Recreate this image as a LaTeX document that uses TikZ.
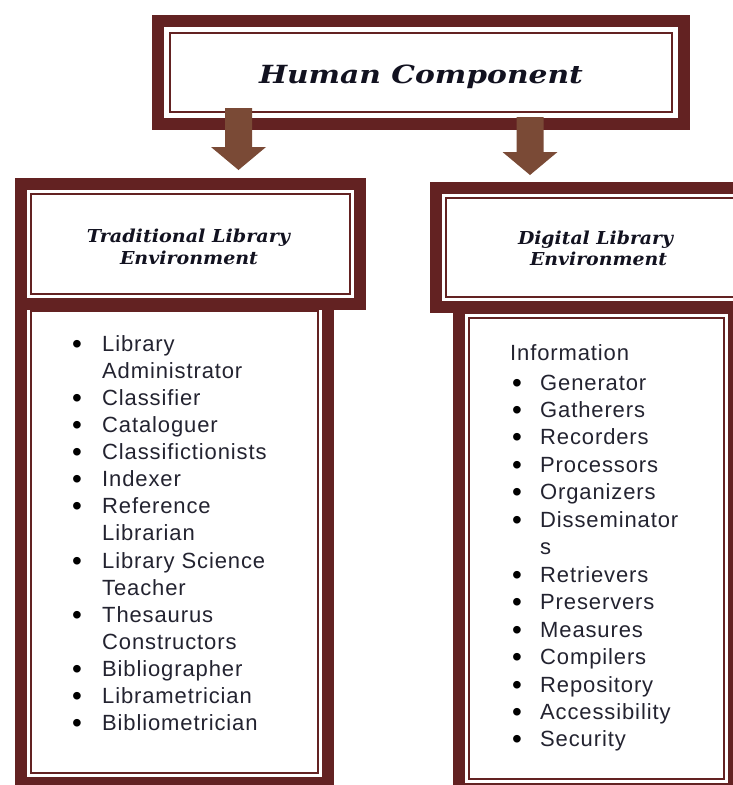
\documentclass[tikz,border=0pt]{standalone}
\usepackage{fontspec}
\usepackage{graphicx}
\usetikzlibrary{calc}
\newfontfamily\hdfont{DejaVu Serif}
\newfontfamily\lsfont[LetterSpace=4]{Liberation Sans}
\definecolor{framec}{RGB}{99,34,34}
\definecolor{arrowc}{RGB}{122,74,54}
\definecolor{headc}{RGB}{18,18,32}
\definecolor{listc}{RGB}{35,35,48}
\tikzset{
  boxframe/.style={draw=framec, line width=12pt, fill=white, inner sep=0pt, outer sep=0pt, rectangle},
  innerline/.style={draw=framec, line width=2.4pt},
  headtxt/.style={inner sep=0pt, text=headc, anchor=base},
  bighead/.style={headtxt, font=\hdfont\bfseries\itshape\fontsize{25}{28}\selectfont},
  subhead/.style={headtxt, font=\hdfont\bfseries\itshape\fontsize{17.8}{20}\selectfont},
  listtxt/.style={inner sep=0pt, text=listc, anchor=base west, font=\lsfont\fontsize{22}{26}\selectfont},
  bullettxt/.style={inner sep=0pt, text=black, anchor=base, yshift=-2pt, font=\lsfont\fontsize{28}{30}\selectfont},
  arrowfill/.style={fill=arrowc}
}
\newcommand\innerframe[2]{\draw[innerline] ($(#1.north west)+(#2,#2)$) rectangle ($(#1.south east)+(-#2,-#2)$);}
\begin{document}
\begin{tikzpicture}[x=1pt,y=-1pt]
\useasboundingbox (0,0) rectangle (733,785);
\fill[white] (0,0) rectangle (733,785);
\clip (0,0) rectangle (733,785);
% left list box, then its header
\node[boxframe, minimum width=307pt, minimum height=482pt] (ll) at (174.5,542) {};
\innerframe{ll}{10}
\node[boxframe, minimum width=339pt, minimum height=120pt] (lh) at (190.5,244) {};
\innerframe{lh}{10}
% right list box, then its header
\node[boxframe, minimum width=275pt, minimum height=481pt] (rl) at (596.5,548.5) {};
\innerframe{rl}{10}
\node[boxframe, minimum width=318pt, minimum height=119pt] (rh) at (595,247.5) {};
\innerframe{rh}{10}
% top box
\node[boxframe, minimum width=526pt, minimum height=103pt] (top) at (421,72.5) {};
\innerframe{top}{12}
% arrows
\coordinate (a1s) at (238.5,108);
\coordinate (a1e) at (238.5,170);
\coordinate (a2s) at (530,117);
\coordinate (a2e) at (530,175);
\fill[arrowfill] ($(a1s)+(-13.5,0)$) -- ($(a1s)+(13.5,0)$) -- ($(a1e)+(13.5,-23)$) -- ($(a1e)+(27.5,-23)$) -- (a1e) -- ($(a1e)+(-27.5,-23)$) -- ($(a1e)+(-13.5,-23)$) -- cycle;
\fill[arrowfill] ($(a2s)+(-13.5,0)$) -- ($(a2s)+(13.5,0)$) -- ($(a2e)+(13.5,-23)$) -- ($(a2e)+(27.5,-23)$) -- (a2e) -- ($(a2e)+(-27.5,-23)$) -- ($(a2e)+(-13.5,-23)$) -- cycle;
% headings
\node[bighead] (hc) at (421,83) {\resizebox{324pt}{\height}{Human Component}};
\node[subhead] (lh1) at (188.5,242) {\resizebox{203pt}{\height}{Traditional Library}};
\node[subhead] (lh2) at (189,264) {\resizebox{138pt}{\height}{Environment}};
\node[subhead] (rh1) at (595.5,244) {\resizebox{155pt}{\height}{Digital Library}};
\node[subhead] (rh2) at (598.5,265) {\resizebox{137pt}{\height}{Environment}};
% left list
\foreach \t/\b [count=\i from 0] in {Library/1, Administrator/0, Classifier/1, Cataloguer/1, Classifictionists/1, Indexer/1, Reference/1, Librarian/0, Library Science/1, Teacher/0, Thesaurus/1, Constructors/0, Bibliographer/1, Librametrician/1, Bibliometrician/1}{
  \pgfmathsetmacro\yy{351+\i*27.14}
  \node[listtxt] (L\i) at (102,\yy) {\t};
  \ifnum\b=1 \node[bullettxt] (LB\i) at (77,\yy) {•};\fi
}
% right list
\node[listtxt] (info) at (510,360) {Information};
\foreach \t/\b [count=\i from 0] in {Generator/1, Gatherers/1, Recorders/1, Processors/1, Organizers/1, Disseminator/1, s/0, Retrievers/1, Preservers/1, Measures/1, Compilers/1, Repository/1, Accessibility/1, Security/1}{
  \pgfmathsetmacro\yy{390+\i*27.46}
  \node[listtxt] (R\i) at (540,\yy) {\t};
  \ifnum\b=1 \node[bullettxt] (RB\i) at (517,\yy) {•};\fi
}
\end{tikzpicture}
\end{document}
